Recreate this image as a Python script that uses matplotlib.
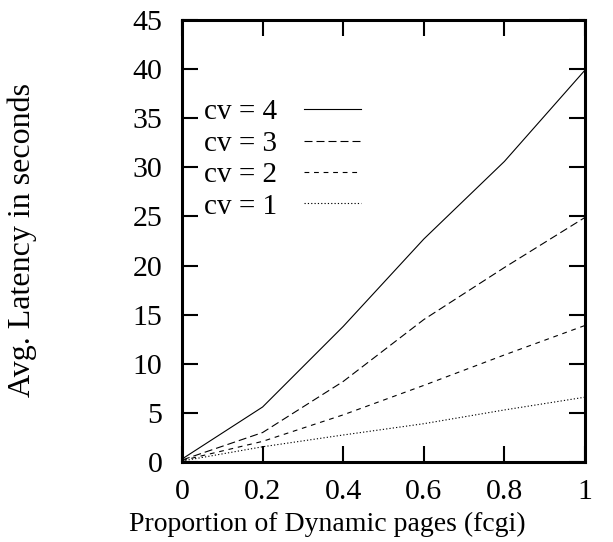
import numpy as np
import matplotlib
matplotlib.use('Agg')
import matplotlib.pyplot as plt

plt.rcParams['font.family'] = ['Liberation Serif', 'DejaVu Serif']

# values
prop = [0.0, 0.2, 0.4, 0.6, 0.8, 1.0]
lat_cv4 = [0.3, 5.6, 13.8, 22.7, 30.6, 39.9]
lat_cv3 = [0.2, 3.0, 8.2, 14.5, 19.8, 24.9]
lat_cv2 = [0.15, 2.1, 4.8, 7.8, 10.9, 13.9]
lat_cv1 = [0.1, 1.55, 2.75, 3.9, 5.3, 6.6]
labels = ['cv = 4', 'cv = 3', 'cv = 2', 'cv = 1']

fs = 21
fig = plt.figure(figsize=(6.13, 5.42), dpi=100)
ax = fig.add_axes([182/613, 1-462/542, 403/613, 442/542])

lw = 0.8
ax.plot(prop, lat_cv4, color='black', lw=lw, label=labels[0])
ax.plot(prop, lat_cv3, color='black', lw=lw, dashes=(7.2, 3.6), label=labels[1])
ax.plot(prop, lat_cv2, color='black', lw=lw, dashes=(4.3, 4.3), label=labels[2])
ax.plot(prop, lat_cv1, color='black', lw=lw, dashes=(1.1, 1.9), label=labels[3])

ax.set_xlim(0, 1)
ax.set_ylim(0, 45)
ax.set_xticks([0, 0.2, 0.4, 0.6, 0.8, 1])
ax.set_xticklabels(['0', '0.2', '0.4', '0.6', '0.8', '1'])
ax.set_yticks(np.arange(0, 46, 5))
ax.tick_params(direction='in', length=11.5, width=1.5, labelsize=21.5,
               top=True, right=True)
ax.tick_params(axis='x', pad=12)
ax.tick_params(axis='y', pad=14)
for s in ax.spines.values():
    s.set_linewidth(2.2)

fig.text(327.5/613, 1-531/542, 'Proportion of Dynamic pages (fcgi)',
         ha='center', va='baseline', fontsize=20)
fig.text(22/613, 1-240/542, 'Avg. Latency in seconds', rotation=90,
         ha='center', va='center', fontsize=23)

leg = ax.legend(loc='upper left', bbox_to_anchor=(204/613, 1-99/542),
                bbox_transform=fig.transFigure, frameon=False, fontsize=fs,
                markerfirst=False, handlelength=1.95, handletextpad=0.92,
                labelspacing=0.17, borderpad=0, borderaxespad=0)

fig.savefig('out.png', dpi=100)
